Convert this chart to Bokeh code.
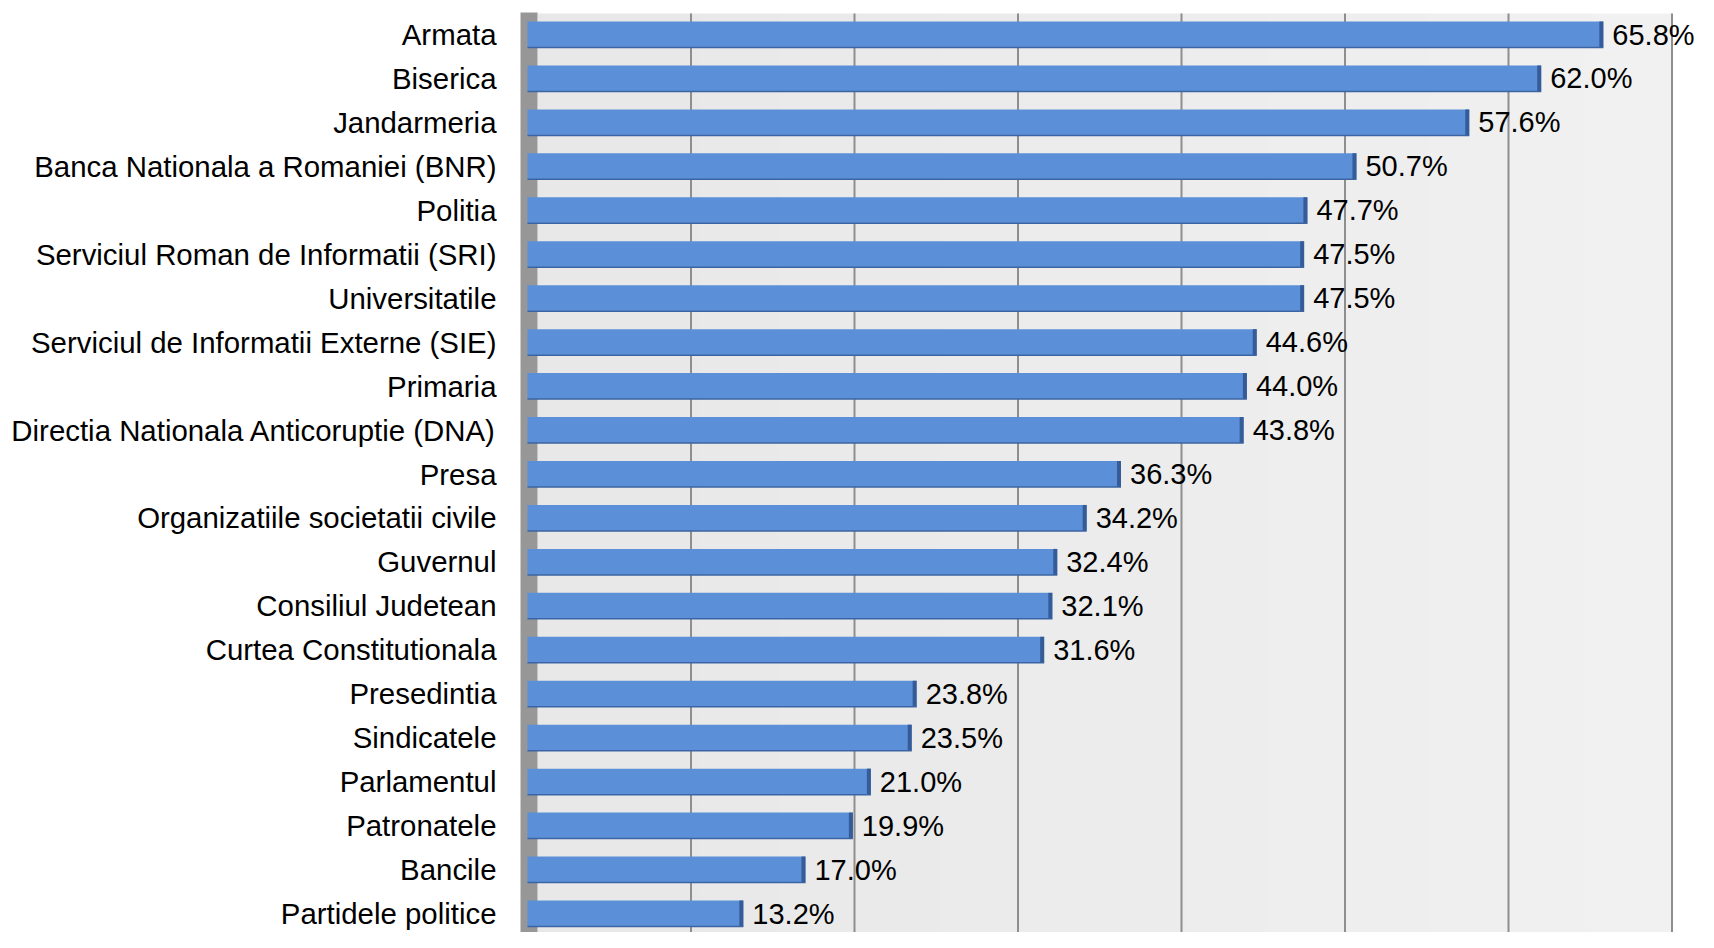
from bokeh.plotting import figure
from bokeh.models import Range1d, FixedTicker, ColumnDataSource
from bokeh.core.properties import value
from bokeh.embed import file_html
from bokeh.resources import INLINE

categories = [
    "Armata", "Biserica", "Jandarmeria", "Banca Nationala a Romaniei (BNR)",
    "Politia", "Serviciul Roman de Informatii (SRI)", "Universitatile",
    "Serviciul de Informatii Externe (SIE)", "Primaria",
    "Directia Nationala Anticoruptie (DNA)", "Presa",
    "Organizatiile societatii civile", "Guvernul", "Consiliul Judetean",
    "Curtea Constitutionala", "Presedintia", "Sindicatele", "Parlamentul",
    "Patronatele", "Bancile", "Partidele politice",
]
values = [65.8, 62.0, 57.6, 50.7, 47.7, 47.5, 47.5, 44.6, 44.0, 43.8, 36.3,
          34.2, 32.4, 32.1, 31.6, 23.8, 23.5, 21.0, 19.9, 17.0, 13.2]
grid_ticks = [10, 20, 30, 40, 50, 60, 70]

n = len(categories)
idx = list(range(n))
labels = [f"{v:.1f}%" for v in values]

W, H = 1698, 932
left_px = 505
zero_px = 527.0
px_per_pct = 16.35
top_center_px = 34.0
pitch_px = 43.95

x_start = (left_px - zero_px) / px_per_pct
x_end = (W - zero_px) / px_per_pct
y_top = -top_center_px / pitch_px
y_bot = (H - top_center_px) / pitch_px

bar_h = 26 / pitch_px
cap_w = 4 / px_per_pct
gap = 9 / px_per_pct
wall_top = (13 - top_center_px) / pitch_px

src = ColumnDataSource(dict(
    y=idx, v=values, lab=labels,
    cap_left=[v - cap_w for v in values],
    lab_x=[v + gap for v in values],
    edge_y=[i + bar_h / 2 for i in idx],
    zero=[0] * n,
))

p = figure(width=W, height=H, output_backend="svg", toolbar_location=None,
           x_range=Range1d(x_start, x_end), y_range=Range1d(y_bot, y_top),
           min_border_left=left_px, min_border_right=0, min_border_top=0,
           min_border_bottom=0)
p.outline_line_color = None
p.background_fill_color = "white"
p.border_fill_color = "white"
p.xgrid.grid_line_color = None
p.ygrid.grid_line_color = None
p.xaxis.visible = False

# back wall with a soft left-to-right gradient
wall_left = 10 / px_per_pct
steps = 14
span = grid_ticks[-1] - wall_left
for k in range(steps):
    c = int(232 + (241 - 232) * k / (steps - 1))
    p.quad(left=wall_left + span * k / steps,
           right=wall_left + span * (k + 1) / steps + 0.05,
           top=wall_top, bottom=n + 1,
           fill_color=(c, c, c), line_color=None)
# side wall
p.quad(left=-7 / px_per_pct, right=wall_left, top=wall_top - 0.02, bottom=n + 1,
       fill_color="#979797", line_color=None)
# gridlines
p.segment(x0=grid_ticks, x1=grid_ticks, y0=[wall_top] * len(grid_ticks),
          y1=[n + 1] * len(grid_ticks), line_color="#8E8E8E", line_width=2)

# bars
p.hbar(y="y", left="zero", right="v", height=bar_h, source=src,
       fill_color="#5B90D8", line_color=None)
p.hbar(y="y", left="cap_left", right="v", height=bar_h, source=src,
       fill_color="#355C98", line_color=None)
p.segment(x0="zero", x1="v", y0="edge_y", y1="edge_y", source=src,
          line_color="#3C64A2", line_width=1.5)

p.text(x="lab_x", y="y", text="lab", source=src, text_baseline="middle",
       text_align="left", text_font=value("Liberation Sans"),
       text_font_size="29px", text_color="#000000")

ya = p.yaxis[0]
ya.ticker = FixedTicker(ticks=idx)
ya.major_label_overrides = {i: c for i, c in zip(idx, categories)}
ya.axis_line_color = None
ya.major_tick_line_color = None
ya.minor_tick_line_color = None
ya.major_tick_out = 0
ya.major_tick_in = 0
ya.major_label_standoff = 9
ya.major_label_text_font = "Liberation Sans"
ya.major_label_text_font_size = "29.4px"
ya.major_label_text_color = "#000000"

open("out.html", "w").write(file_html(p, INLINE))
